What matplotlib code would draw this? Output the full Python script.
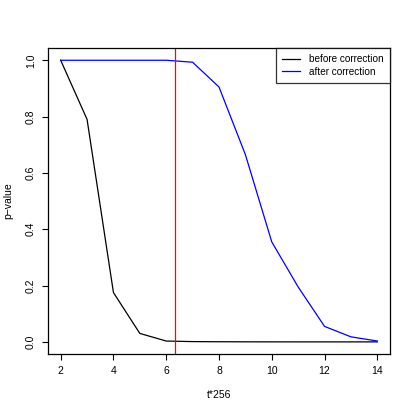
import matplotlib
matplotlib.use("Agg")
import matplotlib.pyplot as plt

plt.rcParams['font.family'] = ['Liberation Sans', 'DejaVu Sans']

t = [2, 3, 4, 5, 6, 7, 8, 9, 10, 11, 12, 13, 14]
before = [1.0, 0.79, 0.175, 0.03, 0.003, 0.001, 0.0005, 0.0002, 0.0001, 0.0, 0.0, 0.0, 0.0]
after = [1.0, 1.0, 1.0, 1.0, 1.0, 0.993, 0.905, 0.665, 0.355, 0.195, 0.055, 0.018, 0.003]
cutoff = 6.32

fig = plt.figure(figsize=(4.15, 4.15), dpi=100)
ax = fig.add_axes([0.1157, 0.147, 0.824, 0.737])

ax.plot(t, before, color='black', lw=0.9, label='before correction')
ax.plot(t, after, color='blue', lw=0.9, label='after correction')
ax.axvline(cutoff, color='red', lw=0.9)

ax.set_xlim(1.52, 14.48)
ax.set_ylim(-0.043, 1.043)
ax.set_xticks([2, 4, 6, 8, 10, 12, 14])
ax.set_yticks([0.0, 0.2, 0.4, 0.6, 0.8, 1.0])
ax.set_yticklabels(['0.0', '0.2', '0.4', '0.6', '0.8', '1.0'], rotation=90, va='center')
ax.tick_params(labelsize=7.5, length=4.3, width=0.8, pad=4.5)
for s in ax.spines.values():
    s.set_linewidth(0.9)

ax.set_xlabel('t*256', fontsize=7.5, labelpad=10)
ax.set_ylabel('p\u2212value', fontsize=7.5, labelpad=9)

leg = ax.legend(loc='upper right', fontsize=7.2, frameon=True, fancybox=False,
                edgecolor='black', borderaxespad=0, handlelength=1.85,
                handletextpad=0.9, labelspacing=0.25, borderpad=0.6)
leg.get_frame().set_linewidth(0.9)

fig.savefig('out.png', dpi=100)
